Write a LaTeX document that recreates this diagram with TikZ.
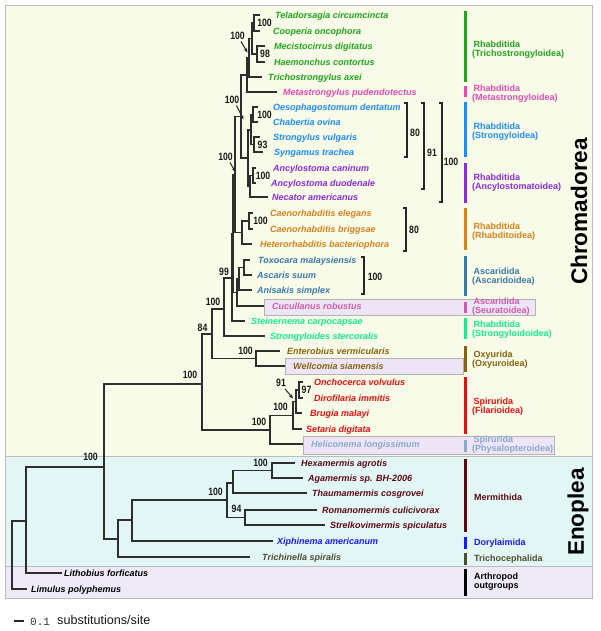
\documentclass[tikz,border=0pt]{standalone}
\usepackage{fontspec}
\setmainfont{Liberation Sans}
\newfontfamily\bnum[FakeStretch=0.82]{Liberation Sans}
\newfontfamily\scalefont{Liberation Mono}
\usetikzlibrary{arrows.meta}
\definecolor{cChr}{HTML}{F8FBE8}
\definecolor{cEno}{HTML}{E2F6F6}
\definecolor{cArt}{HTML}{EFEAF7}
\definecolor{hl}{HTML}{EDE5F6}
\definecolor{pline}{HTML}{BBBBBB}
\definecolor{cTri}{HTML}{22A51E}
\definecolor{cMeta}{HTML}{E64BB4}
\definecolor{cStr}{HTML}{1E8CFF}
\definecolor{cAnc}{HTML}{8A2BE2}
\definecolor{cRh}{HTML}{D9821E}
\definecolor{cAsc}{HTML}{3C78AA}
\definecolor{cSeu}{HTML}{CC5FA8}
\definecolor{cSgy}{HTML}{14EE8C}
\definecolor{cOxy}{HTML}{86630E}
\definecolor{cFil}{HTML}{E81010}
\definecolor{cPhy}{HTML}{88AACC}
\definecolor{cMer}{HTML}{5C0A14}
\definecolor{cDor}{HTML}{1A1AFF}
\definecolor{cTch}{HTML}{4F4F30}
\begin{document}
\begin{tikzpicture}[x=1pt,y=-1pt,
  br/.style={line width=1.3pt, draw=black!82},
  brk/.style={line width=1.3pt, draw=black!85},
  arr/.style={line width=1pt, draw=black!85, -{Stealth[length=4.5pt,width=3.6pt]}},
  taxon/.style={anchor=base west, inner sep=0pt, yshift=-3.3pt, font=\fontsize{9}{10}\selectfont\bfseries\itshape},
  bs/.style={inner sep=0pt, font=\bnum\fontsize{10.6}{11}\selectfont\bfseries, text=black!90},
  cl/.style={anchor=west, inner sep=0pt, align=left, font=\fontsize{9}{8.8}\selectfont\bfseries},
  cbar/.style={line width=3pt},
  hbox/.style={fill=hl, draw=black!30, line width=0.8pt},
  panel/.style={draw=pline, line width=0.9pt}
]
\useasboundingbox (0,0) rectangle (600,631);
\fill[white] (0,0) rectangle (600,631);
% panels
\fill[cChr] (5.5,5.5) rectangle (592.5,456);
\fill[cEno] (5.5,456) rectangle (592.5,566);
\fill[cArt] (5.5,566) rectangle (592.5,598);
\draw[panel] (5.5,456) -- (592.5,456);
\draw[panel] (5.5,566) -- (592.5,566);
\draw[panel] (5.5,5.5) rectangle (592.5,598);
% highlight boxes
\draw[hbox] (264,299) rectangle (535,315);
\draw[hbox] (285,358) rectangle (463,374);
\draw[hbox] (303,436) rectangle (554,454);
% internal nodes
\coordinate (nTC) at (254,23);
\coordinate (nMH) at (257,54);
\coordinate (nT1) at (252,38.5);
\coordinate (nT2) at (249,58);
\coordinate (nA) at (247,75);
\coordinate (nOC) at (253,114.5);
\coordinate (nSS) at (254,144.5);
\coordinate (nStr) at (251,130);
\coordinate (nAA) at (253,175.5);
\coordinate (nAnc) at (250,186);
\coordinate (nB) at (248,158);
\coordinate (nAB) at (241,116.5);
\coordinate (nCC) at (249,221);
\coordinate (nRh) at (242,232.5);
\coordinate (nR) at (235,174.5);
\coordinate (nTA) at (244,267.5);
\coordinate (nAsc) at (239,279);
\coordinate (nAscd) at (237,292.5);
\coordinate (nX) at (233,233.5);
\coordinate (n99) at (232,278);
\coordinate (n100a) at (224,309);
\coordinate (nOxy) at (256,358.5);
\coordinate (n84) at (212,334);
\coordinate (nOD) at (299,390);
\coordinate (n91) at (296,401.5);
\coordinate (nFil) at (293,415.5);
\coordinate (nSpi) at (270,430);
\coordinate (nCh) at (202,384);
\coordinate (nHA) at (272,470.5);
\coordinate (nHAT) at (233,483);
\coordinate (nRS) at (245,517.5);
\coordinate (nMer) at (227,500);
\coordinate (nDor) at (132,520);
\coordinate (nEno) at (118,539);
\coordinate (nIn) at (104,467);
\coordinate (nLi) at (26,521);
\coordinate (nRoot) at (12,555);
\foreach \p/\c in {nT1/nTC,nT1/nMH,nT2/nT1,nA/nT2,nAB/nA,nStr/nOC,nStr/nSS,nB/nStr,nAnc/nAA,nB/nAnc,nAB/nB,nR/nAB,nRh/nCC,nR/nRh,nX/nR,nAsc/nTA,nAscd/nAsc,nX/nAscd,n99/nX,n100a/n99,n84/n100a,n84/nOxy,nCh/n84,n91/nOD,nFil/n91,nSpi/nFil,nCh/nSpi,nIn/nCh,nHAT/nHA,nMer/nHAT,nMer/nRS,nDor/nMer,nEno/nDor,nIn/nEno,nLi/nIn,nRoot/nLi}
  {\draw[br] (\p) |- (\c);}
% tips
\foreach \k/\ex/\y/\tx/\p/\col/\nm in {
 1/260/15/275/nTC/cTri/Teladorsagia circumcincta,
 2/260/31/273/nTC/cTri/Cooperia oncophora,
 3/265/46/274/nMH/cTri/Mecistocirrus digitatus,
 4/265/62/274/nMH/cTri/Haemonchus contortus,
 5/262/77/268/nT2/cTri/Trichostrongylus axei,
 6/277/92/283/nA/cMeta/Metastrongylus pudendotectus,
 7/258/107/273/nOC/cStr/Oesophagostomum dentatum,
 8/258/122/273/nOC/cStr/Chabertia ovina,
 9/260/137/273/nSS/cStr/Strongylus vulgaris,
 10/263/152/274/nSS/cStr/Syngamus trachea,
 11/256/168/273/nAA/cAnc/Ancylostoma caninum,
 12/256/183/271/nAA/cAnc/Ancylostoma duodenale,
 13/268/197/272/nAnc/cAnc/Necator americanus,
 14/253/213/270/nCC/cRh/Caenorhabditis elegans,
 15/253/229/270/nCC/cRh/Caenorhabditis briggsae,
 16/252/244/260/nRh/cRh/Heterorhabditis bacteriophora,
 17/250/260/258/nTA/cAsc/Toxocara malaysiensis,
 18/252/275/257/nTA/cAsc/Ascaris suum,
 19/252/290/257/nAsc/cAsc/Anisakis simplex,
 20/264/306/272/nAscd/cSeu/Cucullanus robustus,
 21/245/321/251/n99/cSgy/Steinernema carpocapsae,
 22/265/336/270/n100a/cSgy/Strongyloides stercoralis,
 23/280/351/287/nOxy/cOxy/Enterobius vermicularis,
 24/285/366/293/nOxy/cOxy/Wellcomia siamensis,
 25/303/382/314/nOD/cFil/Onchocerca volvulus,
 26/303/398/314/nOD/cFil/Dirofilaria immitis,
 27/302/413/310/n91/cFil/Brugia malayi,
 28/302/429/306/nFil/cFil/Setaria digitata,
 29/303/444/311/nSpi/cPhy/Heliconema longissimum,
 30/295/463/301/nHA/cMer/Hexamermis agrotis,
 31/303/478/308/nHA/cMer/Agamermis sp. BH-2006,
 32/307/493/312/nHAT/cMer/Thaumamermis cosgrovei,
 33/317/510/322/nRS/cMer/Romanomermis culicivorax,
 34/325/525/330/nRS/cMer/Strelkovimermis spiculatus,
 35/273/541/277/nDor/cDor/Xiphinema americanum,
 36/250/557/262/nEno/cTch/Trichinella spiralis,
 37/62/573/64/nLi/black/Lithobius forficatus,
 38/27/589/31/nRoot/black/Limulus polyphemus}
{
 \coordinate (e\k) at (\ex,\y);
 \draw[br] (\p) |- (e\k);
 \node[taxon,text=\col] (t\k) at (\tx,\y) {\nm};
}
% bootstrap values
\node[bs] (b1) at (264.5,23) {100};
\node[bs] (b2) at (265,53.5) {98};
\node[bs] (b3) at (237.5,36) {100};
\node[bs] (b4) at (232,100) {100};
\node[bs] (b5) at (264.5,114.5) {100};
\node[bs] (b6) at (262.5,145) {93};
\node[bs] (b7) at (263,176) {100};
\node[bs] (b8) at (225.5,157) {100};
\node[bs] (b9) at (260.5,221) {100};
\node[bs] (b10) at (224,272) {99};
\node[bs] (b11) at (213,302) {100};
\node[bs] (b12) at (202.5,328) {84};
\node[bs] (b13) at (190,375) {100};
\node[bs] (b14) at (245.5,351) {100};
\node[bs] (b15) at (281,383) {91};
\node[bs] (b16) at (306.5,390) {97};
\node[bs] (b17) at (280.5,407) {100};
\node[bs] (b18) at (259,422) {100};
\node[bs] (b19) at (90.5,457) {100};
\node[bs] (b20) at (260.5,463) {100};
\node[bs] (b21) at (215.5,492) {100};
\node[bs] (b22) at (236.5,509) {94};
% arrows
\coordinate (a1) at (247.5,52.5);
\coordinate (a2) at (243.5,119.5);
\coordinate (a3) at (235.5,172);
\coordinate (a4) at (293,398.5);
\draw[arr] (b3.south east) ++(-4,1.5) -- (a1);
\draw[arr] (b4.south east) ++(-3,1.5) -- (a2);
\draw[arr] (b8.south east) ++(-3,1.5) -- (a3);
\draw[arr] (b15.south east) ++(-1,2) -- (a4);
% right brackets
\draw[brk] (404,103) -- (407,103) -- (407,157) -- (404,157);
\node[bs] at (415,133) {80};
\draw[brk] (421,103) -- (424,103) -- (424,189) -- (421,189);
\node[bs] at (432,153) {91};
\draw[brk] (439,103) -- (442,103) -- (442,202) -- (439,202);
\node[bs] at (451,162) {100};
\draw[brk] (403,208) -- (406,208) -- (406,251) -- (403,251);
\node[bs] at (414,230) {80};
\draw[brk] (361,257) -- (364,257) -- (364,294) -- (361,294);
\node[bs] at (375,277) {100};
% clade bars and labels
\draw[cbar,cTri] (465,11) -- (465,82);
\node[cl,text=cTri] at (472,49.5) {\hspace{1.5pt}Rhabditida\\(Trichostrongyloidea)};
\draw[cbar,cMeta] (465,86) -- (465,97);
\node[cl,text=cMeta] at (472,93.5) {\hspace{1.5pt}Rhabditida\\(Metastrongyloidea)};
\draw[cbar,cStr] (465,102) -- (465,157);
\node[cl,text=cStr] at (472,131.5) {\hspace{1.5pt}Rhabditida\\(Strongyloidea)};
\draw[cbar,cAnc] (465,163) -- (465,203);
\node[cl,text=cAnc] at (472,182.5) {\hspace{1.5pt}Rhabditida\\(Ancylostomatoidea)};
\draw[cbar,cRh] (465,208) -- (465,250);
\node[cl,text=cRh] at (472,231.5) {\hspace{1.5pt}Rhabditida\\(Rhabditoidea)};
\draw[cbar,cAsc] (465,256) -- (465,296);
\node[cl,text=cAsc] at (472,276.5) {\hspace{1.5pt}Ascaridida\\(Ascaridoidea)};
\draw[cbar,cSeu] (465,302) -- (465,313);
\node[cl,text=cSeu] at (472,306.5) {\hspace{1.5pt}Ascaridida\\(Seuratoidea)};
\draw[cbar,cSgy] (465,318) -- (465,339);
\node[cl,text=cSgy] at (472,330) {\hspace{1.5pt}Rhabditida\\(Strongyloidoidea)};
\draw[cbar,cOxy] (465,346) -- (465,372);
\node[cl,text=cOxy] at (472,360) {\hspace{1.5pt}Oxyurida\\(Oxyuroidea)};
\draw[cbar,cFil] (465,377) -- (465,434);
\node[cl,text=cFil] at (472,406.5) {\hspace{1.5pt}Spirurida\\(Filarioidea)};
\draw[cbar,cPhy] (465,440) -- (465,452);
\node[cl,text=cPhy] at (472,444.5) {\hspace{1.5pt}Spirurida\\(Physalopteroidea)};
\draw[cbar,cMer] (465,459) -- (465,532);
\node[cl,text=cMer] at (474,497) {Mermithida};
\draw[cbar,cDor] (465,537) -- (465,549);
\node[cl,text=cDor] at (474,543) {Dorylaimida};
\draw[cbar,cTch] (465,553) -- (465,565);
\node[cl,text=cTch] at (474,559) {Trichocephalida};
\draw[cbar,black] (465,569) -- (465,596);
\node[cl,text=black] at (474,581.5) {Arthropod\\outgroups};
% big group labels
\node[rotate=90, inner sep=0pt, font=\fontsize{22.6}{24}\selectfont\bfseries] at (579,211.5) {Chromadorea};
\node[rotate=90, inner sep=0pt, font=\fontsize{22.6}{24}\selectfont\bfseries] at (578,512) {Enoplea};
% scale bar
\coordinate (s1) at (14,621);
\coordinate (s2) at (24,621);
\draw[line width=1.5pt, black!85] (s1) -- (s2);
\node[anchor=west, inner sep=0pt, font=\scalefont\fontsize{11}{12}\selectfont, text=black!80] at (30,622) {0.1};
\node[anchor=west, inner sep=0pt, font=\fontsize{12.6}{14}\selectfont, text=black!90] at (57,620) {substitutions/site};
\end{tikzpicture}
\end{document}
